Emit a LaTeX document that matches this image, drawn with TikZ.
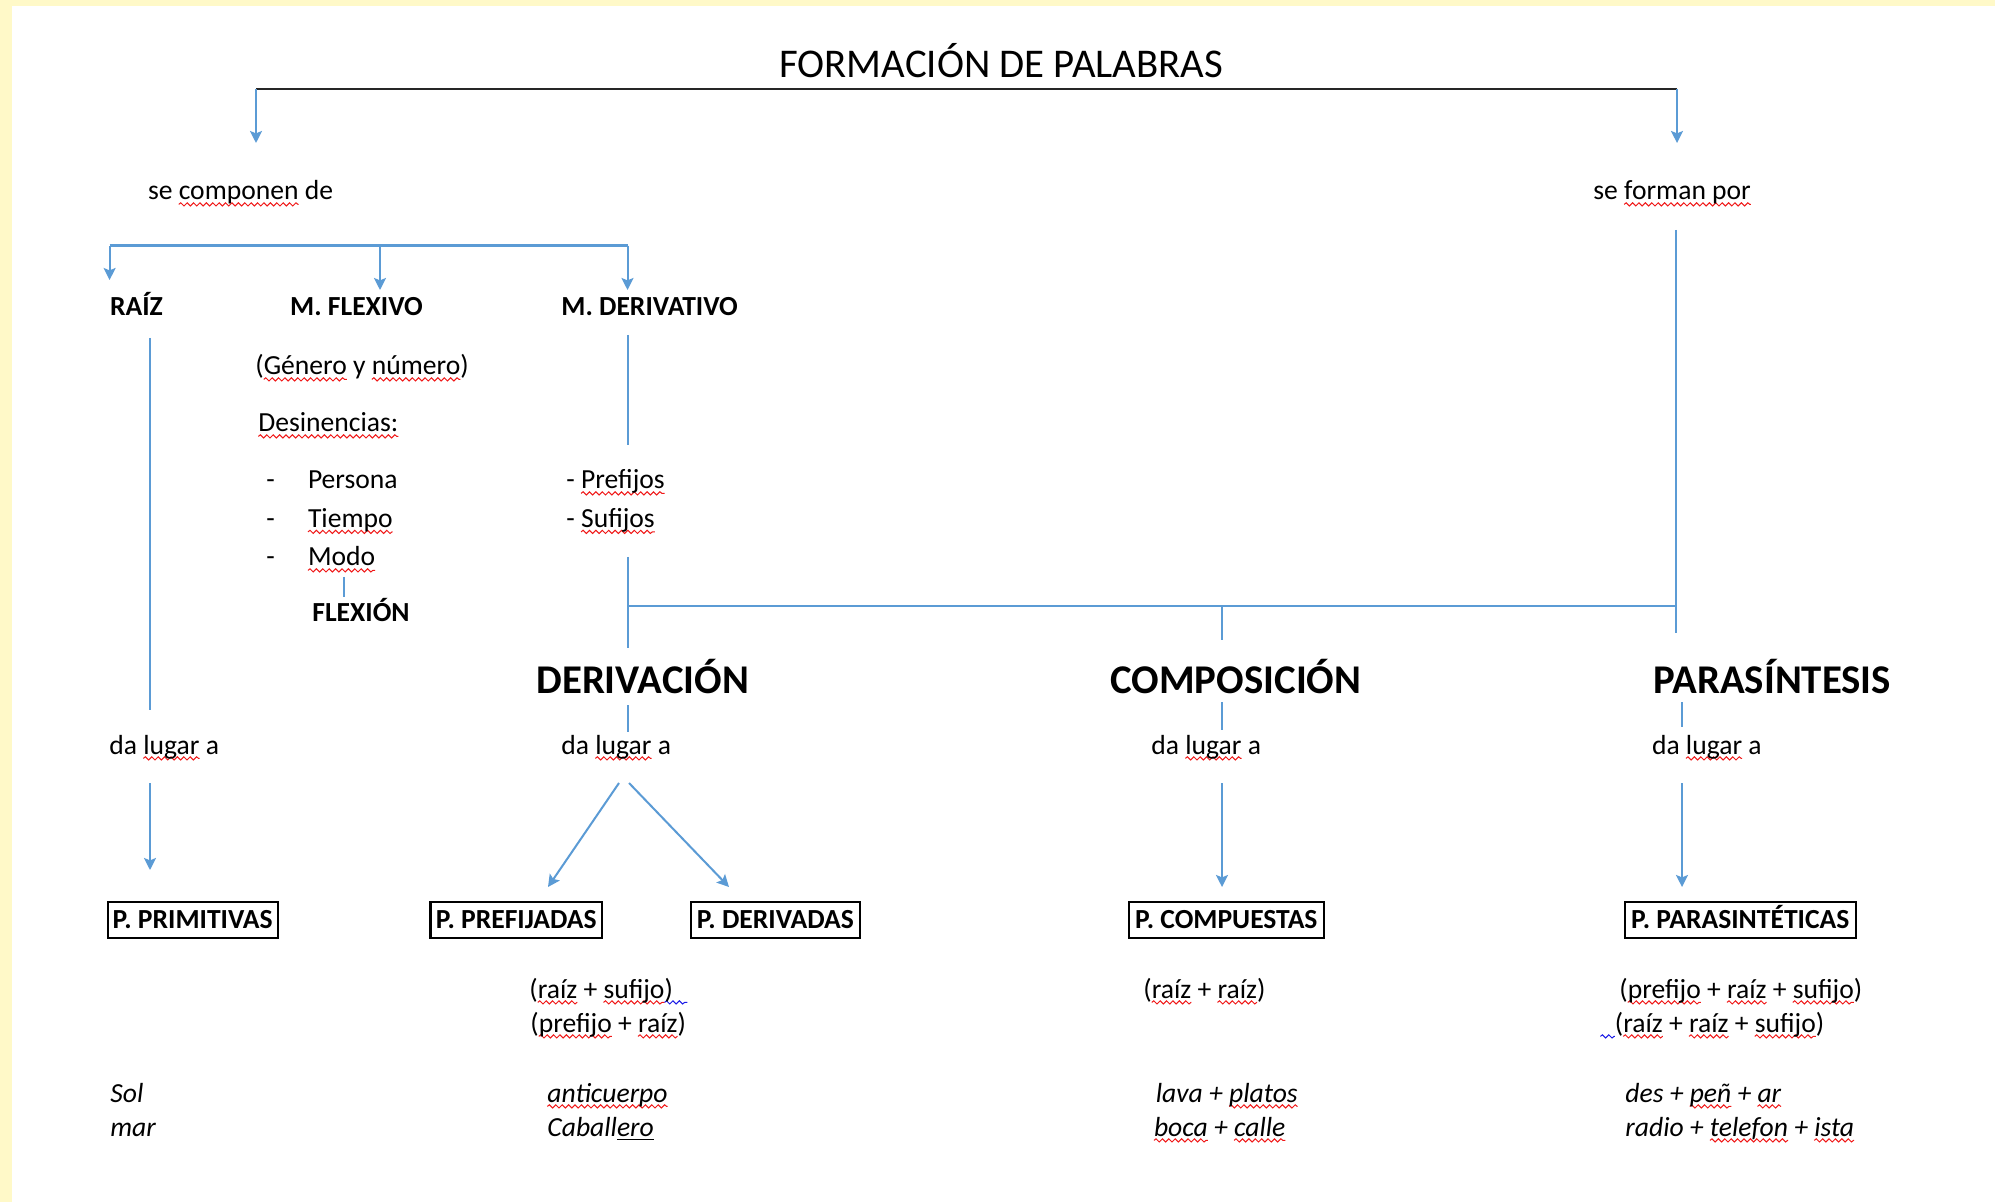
\documentclass[tikz,border=0pt]{standalone}
\usepackage{fontspec}
\setmainfont{Carlito}
\usetikzlibrary{arrows.meta,decorations.pathmorphing}
\definecolor{lineblue}{HTML}{5B9BD5}
\definecolor{bgyellow}{HTML}{FFF9C8}
\definecolor{wavered}{HTML}{F01818}
\definecolor{waveblue}{HTML}{1A1AE6}
\newsavebox\sqbox
\newcommand\wavemark[2]{\sbox\sqbox{#2}\rlap{\tikz[overlay,baseline=0pt,x=1pt,y=1pt]\draw[#1,line width=0.5pt,decorate,decoration={snake,amplitude=0.8pt,segment length=3.2pt}] (0pt,-2.2pt) -- (\the\wd\sqbox,-2.2pt);}\usebox\sqbox}
\newcommand\sq[1]{\wavemark{wavered}{#1}}
\newcommand\bq[1]{\wavemark{waveblue}{#1}}
\newcommand\fsS{\fontsize{13.8}{16}\selectfont}
\newcommand\fsB{\fontsize{20.4}{24}\selectfont}
\begin{document}
\begin{tikzpicture}[x=0.5pt,y=-0.5pt,
  txt/.style={anchor=base west,inner sep=0pt,font=\fsS},
  lbl/.style={anchor=base west,inner sep=0pt,font=\fsS\bfseries},
  exm/.style={anchor=base west,inner sep=0pt,font=\fsS\itshape},
  ttl/.style={anchor=base west,inner sep=0pt,font=\fsB},
  big/.style={anchor=base west,inner sep=0pt,font=\fsB\bfseries},
  pbox/.style={draw=black,line width=1.1pt,inner sep=0pt,font=\fsS\bfseries,
    text height=9pt,text depth=0pt,minimum height=18pt,align=center},
  wline/.style={draw=lineblue,line width=1pt},
  warrow/.style={wline,-{Stealth[length=6pt,width=6pt,inset=1.2pt]}},
  blackline/.style={draw=black!85,line width=1pt}]
\fill[bgyellow] (0,0) rectangle (1995,1202);
\fill[white] (12,6) rectangle (1995,1202);
\useasboundingbox (0,0) rectangle (1995,1202);

% title and first level
\node[ttl] (title) at (779,78) {FORMACIÓN DE PALABRAS};
\coordinate (tl) at (256,89);
\coordinate (tr) at (1677,89);
\coordinate (tlA) at (256,143);
\coordinate (trA) at (1677,143);
\draw[blackline] (tl) -- (tr);
\draw[warrow] (tl) -- (tlA);
\draw[warrow] (tr) -- (trA);

\node[txt] (secomp) at (147.6,200) {se \sq{componen} de};
\node[txt] (seform) at (1593,200) {se \sq{forman por}};

% bracket
\coordinate (b1) at (109.6,245.7);
\coordinate (b2) at (380,245.7);
\coordinate (b3) at (627.5,245.7);
\coordinate (b1A) at (109.6,280);
\coordinate (b2A) at (380,290);
\coordinate (b3A) at (627.5,290);
\draw[wline,line width=1.3pt] (b1) -- (b3);
\draw[warrow] (b1) -- (b1A);
\draw[warrow] (b2) -- (b2A);
\draw[warrow] (b3) -- (b3A);

\node[lbl] (raiz) at (109.7,316) {RAÍZ};
\node[lbl] (mflex) at (289.8,316) {M. FLEXIVO};
\node[lbl] (mderiv) at (561,316) {M. DERIVATIVO};

% flexivo block
\node[txt] (genero) at (255,375) {(\sq{Género} y \sq{número})};
\node[txt] (desin) at (258,432) {\sq{Desinencias:}};
\node[txt] (d1) at (266,489) {-};
\node[txt] (d2) at (266,527.5) {-};
\node[txt] (d3) at (266,566) {-};
\node[txt] (pers) at (307.6,489) {Persona};
\node[txt] (tiem) at (307.6,527.5) {\sq{Tiempo}};
\node[txt] (modo) at (307.6,566) {\sq{Modo}};
\coordinate (mf1) at (344,577);
\coordinate (mf2) at (344,597);
\draw[wline] (mf1) -- (mf2);
\node[lbl] (flexion) at (312,621.5) {FLEXIÓN};

% derivativo block
\node[txt] (pref) at (566,489) {- \sq{Prefijos}};
\node[txt] (suf) at (566,527.5) {- \sq{Sufijos}};
\coordinate (md1) at (627.5,335);
\coordinate (md2) at (627.5,445);
\coordinate (md3) at (627.5,557);
\coordinate (md4) at (627.5,648);
\draw[wline] (md1) -- (md2);
\draw[wline] (md3) -- (md4);

% raiz line
\coordinate (r1) at (150,338);
\coordinate (r2) at (150,710);
\draw[wline] (r1) -- (r2);
\node[txt] (dl0) at (109,754) {da \sq{lugar} a};
\coordinate (r3) at (150,783);
\coordinate (r4) at (150,870);
\draw[warrow] (r3) -- (r4);

% right branch
\coordinate (sf1) at (1676,230);
\coordinate (sf2) at (1676,633);
\draw[wline] (sf1) -- (sf2);
\coordinate (h1) at (627.5,605.7);
\coordinate (h2) at (1676,605.7);
\coordinate (hm) at (1222,605.7);
\coordinate (hmA) at (1222,640);
\draw[wline] (h1) -- (h2);
\draw[wline] (hm) -- (hmA);

\node[big] (deriv) at (536,693) {DERIVACIÓN};
\node[big] (compo) at (1110,693) {COMPOSICIÓN};
\node[big] (paras) at (1653,693) {PARASÍNTESIS};

\coordinate (dv1) at (627.5,705);
\coordinate (dv2) at (627.5,732);
\coordinate (cp1) at (1222,702);
\coordinate (cp2) at (1222,730);
\coordinate (ps1) at (1682,702);
\coordinate (ps2) at (1682,727);
\draw[wline] (dv1) -- (dv2);
\draw[wline] (cp1) -- (cp2);
\draw[wline] (ps1) -- (ps2);

\node[txt] (dl1) at (561,754) {da \sq{lugar} a};
\node[txt] (dl2) at (1151,754) {da \sq{lugar} a};
\node[txt] (dl3) at (1651.6,754) {da \sq{lugar} a};

\coordinate (da1) at (619,783);
\coordinate (da2) at (629,783);
\coordinate (ca1) at (1222,783);
\coordinate (pa1) at (1682,783);

% boxes
\node[pbox,minimum width=85pt] (pprim) at (192.7,919.7) {P. PRIMITIVAS};
\node[pbox,minimum width=85.75pt] (ppref) at (516.25,919.7) {P. PREFIJADAS};
\node[pbox,minimum width=84.65pt] (pderiv) at (775.35,919.7) {P. DERIVADAS};
\node[pbox,minimum width=97.3pt] (pcomp) at (1226.3,919.7) {P. COMPUESTAS};
\node[pbox,minimum width=115.3pt] (ppara) at (1740.3,919.7) {P. PARASINTÉTICAS};

\coordinate (da1e) at (548,887);
\coordinate (da2e) at (729,887);
\coordinate (ca1e) at (1222,887);
\coordinate (pa1e) at (1682,887);
\draw[warrow] (da1) -- (da1e);
\draw[warrow] (da2) -- (da2e);
\draw[warrow] (ca1) -- (ca1e);
\draw[warrow] (pa1) -- (pa1e);

% formulas
\node[txt] (f1) at (529,998) {(\sq{raíz} + \sq{sufijo}\bq{)\hphantom{n}}};
\node[txt] (f2) at (530,1032) {(\sq{prefijo} + \sq{raíz})};
\node[txt] (f3) at (1143,998) {(\sq{raíz} + \sq{raíz})};
\node[txt] (f4) at (1619,998) {(\sq{prefijo} + \sq{raíz} + \sq{sufijo})};
\node[txt] (f5) at (1600,1032) {\bq{\hphantom{n}}(\sq{raíz} + \sq{raíz} + \sq{sufijo})};

% examples
\node[exm] (e1) at (110,1102) {Sol};
\node[exm] (e2) at (110,1136) {mar};
\node[exm] (e3) at (547,1102) {\sq{anticuerpo}};
\node[exm] (e4) at (547,1136) {Caball\underline{ero}};
\node[exm] (e5) at (1155.5,1102) {lava + \sq{platos}};
\node[exm] (e6) at (1153.6,1136) {\sq{boca} + \sq{calle}};
\node[exm] (e7) at (1625,1102) {des + \sq{peñ} + \sq{ar}};
\node[exm] (e8) at (1625,1136) {radio + \sq{telefon} + \sq{ista}};
\end{tikzpicture}
\end{document}
